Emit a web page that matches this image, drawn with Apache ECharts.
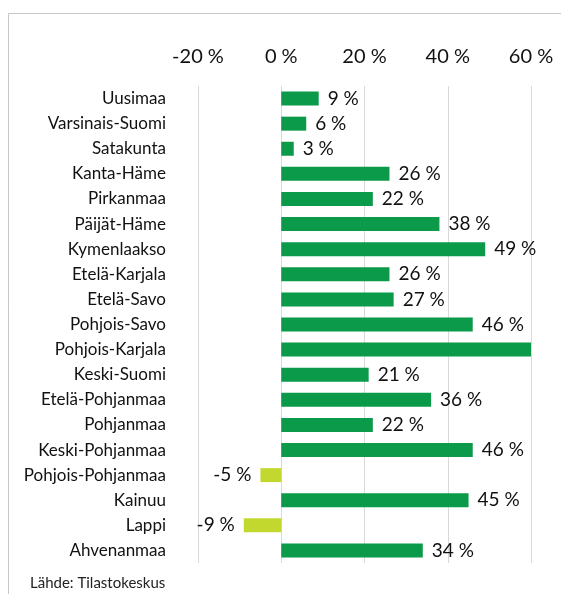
<!DOCTYPE html>
<html>
<head>
<meta charset="utf-8">
<script src="https://cdn.jsdelivr.net/npm/echarts@6/dist/echarts.min.js"></script>
<style>
  html, body { margin: 0; padding: 0; background: #fff; }
  #chart { width: 561px; height: 594px; }
</style>
</head>
<body>
<div id="chart"></div>
<script>
const regions = ['Uusimaa', 'Varsinais-Suomi', 'Satakunta', 'Kanta-Häme', 'Pirkanmaa', 'Päijät-Häme',
  'Kymenlaakso', 'Etelä-Karjala', 'Etelä-Savo', 'Pohjois-Savo', 'Pohjois-Karjala', 'Keski-Suomi',
  'Etelä-Pohjanmaa', 'Pohjanmaa', 'Keski-Pohjanmaa', 'Pohjois-Pohjanmaa', 'Kainuu', 'Lappi', 'Ahvenanmaa'];
const changes = [9, 6, 3, 26, 22, 38, 49, 26, 27, 46, 60, 21, 36, 22, 46, -5, 45, -9, 34];
const hiddenLabels = ['Pohjois-Karjala'];   // bar runs off the scale, no label in original
const ticks = [-20, 0, 20, 40, 60];

const chart = echarts.init(document.getElementById('chart'));

const font = 'Lato, Open Sans, sans-serif';

chart.setOption({
  animation: false,
  graphic: [
    { type: 'rect', shape: { x: 8.5, y: 13.5, width: 600, height: 620 },
      style: { fill: 'none', stroke: '#c6c6c6', lineWidth: 1 } },
    { type: 'text', left: 30, top: 576,
      style: { text: 'Lähde: Tilastokeskus', font: '15px ' + font, fill: '#222' } }
  ],
  grid: { left: 198, right: 30, top: 86, bottom: 31 },
  xAxis: {
    type: 'value',
    position: 'top',
    min: ticks[0],
    max: ticks[ticks.length - 1],
    interval: 20,
    axisLine: { show: false },
    axisTick: { show: false },
    axisLabel: { formatter: v => v + ' %', fontSize: 20, color: '#111', fontFamily: font, margin: 19 },
    splitLine: { lineStyle: { color: '#d9d9d9', width: 1 } }
  },
  yAxis: {
    type: 'category',
    inverse: true,
    data: regions,
    axisLine: { show: false },
    axisTick: { show: false },
    axisLabel: { fontSize: 17, color: '#111', fontFamily: font, margin: 32 }
  },
  series: [{
    type: 'bar',
    barWidth: 14,
    data: changes.map((v, i) => ({
      value: v,
      itemStyle: { color: v < 0 ? '#c3d82e' : '#0b9a4a' },
      label: {
        show: hiddenLabels.indexOf(regions[i]) < 0,
        position: v < 0 ? 'left' : 'right'
      }
    })),
    label: {
      formatter: p => p.value + ' %',
      fontSize: 19,
      color: '#111',
      fontFamily: font,
      distance: 9
    }
  }]
});
</script>
</body>
</html>
